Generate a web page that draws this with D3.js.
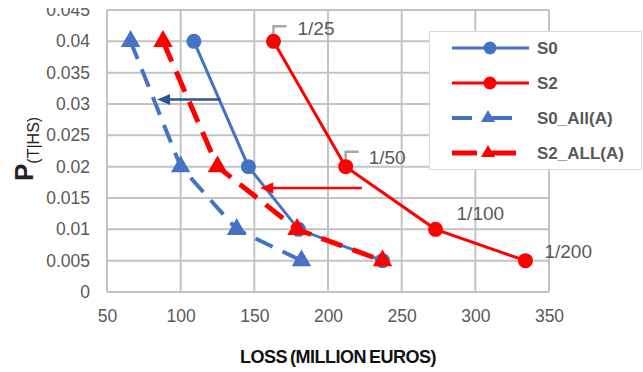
<!DOCTYPE html>
<html>
<head>
<meta charset="utf-8">
<script src="https://cdn.jsdelivr.net/npm/d3@7"></script>
<style>
  html, body { margin: 0; padding: 0; background: #fff; }
  svg { display: block; font-family: "Liberation Sans", Arial, sans-serif; }
</style>
</head>
<body>
<svg id="chart" width="643" height="372"></svg>
<script>
// Loss (million euros) for each return period, per scenario
const probabilities = [0.04, 0.02, 0.01, 0.005];
const returnPeriods = ["1/25", "1/50", "1/100", "1/200"];
const lossS0 = [109, 146, 180, 237];
const lossS2 = [163, 212, 273, 334];
const lossS0All = [66, 100, 138, 182];
const lossS2All = [88, 125, 179, 237];

const xTicks = [50, 100, 150, 200, 250, 300, 350];
const yTicks = [0, 0.005, 0.01, 0.015, 0.02, 0.025, 0.03, 0.035, 0.04, 0.045];

// Shift arrows: [fromLoss, toLoss, probability]
const arrowS0 = [127, 84, 0.0307];
const arrowS2 = [223, 154, 0.0166];

const series = [
  { name: "S0", loss: lossS0, color: "#4472c4", width: 3, dash: null, marker: "circle", legendDash: null },
  { name: "S2", loss: lossS2, color: "#ff0000", width: 3, dash: null, marker: "circle", legendDash: null },
  { name: "S0_All(A)", loss: lossS0All, color: "#4472c4", width: 4, dash: "19,11", marker: "triangle", legendDash: "20,20" },
  { name: "S2_ALL(A)", loss: lossS2All, color: "#ff0000", width: 5, dash: "22,11", marker: "triangle", legendDash: "25,14" }
];

const svg = d3.select("#chart");
const x = d3.scaleLinear().domain([50, 350]).range([107, 549]);
const y = d3.scaleLinear().domain([0, 0.045]).range([292, 10]);
const gridColor = "#c3c3c3";
const textColor = "#595959";

// Gridlines
const grid = svg.append("g");
grid.selectAll("line.h").data(yTicks).join("line")
  .attr("x1", x(50)).attr("x2", x(350))
  .attr("y1", d => y(d)).attr("y2", d => y(d))
  .attr("stroke", gridColor).attr("stroke-width", 2);
grid.selectAll("line.v").data(xTicks).join("line")
  .attr("y1", y(0)).attr("y2", y(0.045))
  .attr("x1", d => x(d)).attr("x2", d => x(d))
  .attr("stroke", gridColor).attr("stroke-width", 2);

// Axes (labels only, lines come from the grid)
const yAxis = d3.axisLeft(y).tickValues(yTicks).tickSize(0).tickPadding(17)
  .tickFormat(d => d === 0 ? "0" : String(+d.toFixed(3)));
const yG = svg.append("g").attr("transform", `translate(${x(50)},0)`).call(yAxis);
yG.select(".domain").remove();
yG.selectAll("text").attr("fill", textColor).attr("font-size", 17.5)
  .attr("font-family", "Liberation Sans, Arial, sans-serif");

const xAxis = d3.axisBottom(x).tickValues(xTicks).tickSize(0).tickPadding(18).tickFormat(d3.format("d"));
const xG = svg.append("g").attr("transform", `translate(0,${y(0)})`).call(xAxis);
xG.select(".domain").remove();
xG.selectAll("text").attr("fill", textColor).attr("font-size", 17.5)
  .attr("font-family", "Liberation Sans, Arial, sans-serif");

// Leader lines for the first two return-period labels
const leaders = svg.append("g");
[0, 1].forEach(i => {
  const px = x(lossS2[i]), py = y(probabilities[i]);
  leaders.append("path")
    .attr("d", `M${px},${py} V${py - 15} H${px + 13}`)
    .attr("fill", "none").attr("stroke", "#a6a6a6").attr("stroke-width", 2.5);
});

// Series lines and markers
const line = d3.line().x(d => x(d[0])).y(d => y(d[1]));
const tri = d3.symbol().type(d3.symbolTriangle);

series.forEach(s => {
  const pts = s.loss.map((v, i) => [v, probabilities[i]]);
  svg.append("path").datum(pts)
    .attr("d", line).attr("fill", "none")
    .attr("stroke", s.color).attr("stroke-width", s.width)
    .attr("stroke-dasharray", s.dash);
  const g = svg.append("g").attr("fill", s.color);
  if (s.marker === "circle") {
    g.selectAll("circle").data(pts).join("circle")
      .attr("cx", d => x(d[0])).attr("cy", d => y(d[1])).attr("r", 7.5);
  } else {
    g.selectAll("path").data(pts).join("path")
      .attr("transform", d => `translate(${x(d[0])},${y(d[1])})`)
      .attr("d", tri.size(165)());
  }
});

// Shift arrows
function arrow(a, color) {
  const x1 = x(a[0]), x2 = x(a[1]), yy = y(a[2]);
  svg.append("line").attr("x1", x1).attr("x2", x2 + 10).attr("y1", yy).attr("y2", yy)
    .attr("stroke", color).attr("stroke-width", 2.5);
  svg.append("path")
    .attr("d", `M${x2},${yy} L${x2 + 13},${yy - 5.5} L${x2 + 13},${yy + 5.5} Z`)
    .attr("fill", color);
}
arrow(arrowS0, "#2f5597");
arrow(arrowS2, "#ff0000");

// Return-period labels next to the S2 points
const labelOffsets = [[24, -6], [23, -3], [21, -9], [19, -3]];
svg.append("g").selectAll("text").data(returnPeriods).join("text")
  .attr("x", (d, i) => x(lossS2[i]) + labelOffsets[i][0])
  .attr("y", (d, i) => y(probabilities[i]) + labelOffsets[i][1])
  .attr("fill", textColor).attr("font-size", 19)
  .text(d => d);

// Legend
const lg = svg.append("g");
lg.append("rect").attr("x", 429.5).attr("y", 31.5).attr("width", 212).attr("height", 138)
  .attr("fill", "#fff").attr("stroke", "#d9d9d9").attr("stroke-width", 1);
series.forEach((s, i) => {
  const yy = 48 + i * 35;
  lg.append("line").attr("x1", 452).attr("x2", 529).attr("y1", yy).attr("y2", yy)
    .attr("stroke", s.color).attr("stroke-width", s.width)
    .attr("stroke-dasharray", s.legendDash);
  if (s.marker === "circle") {
    lg.append("circle").attr("cx", 490).attr("cy", yy).attr("r", 6.5).attr("fill", s.color);
  } else {
    lg.append("path").attr("transform", `translate(488,${yy})`)
      .attr("d", tri.size(85)()).attr("fill", s.color);
  }
  lg.append("text").attr("x", 537).attr("y", yy + 6)
    .attr("font-size", 17).attr("font-weight", "bold").attr("fill", textColor)
    .text(s.name);
});

// Axis titles
svg.append("text").attr("x", 338).attr("y", 363).attr("text-anchor", "middle")
  .attr("font-size", 18).attr("font-weight", "bold").attr("fill", "#111")
  .attr("letter-spacing", -0.5).attr("word-spacing", -1.5)
  .text("LOSS (MILLION EUROS)");

const yt = svg.append("text").attr("transform", "translate(33,181) rotate(-90)")
  .attr("fill", "#222");
yt.append("tspan").attr("font-size", 26).attr("font-weight", "bold").text("P");
yt.append("tspan").attr("font-size", 16).attr("dy", 6).text("(T|HS)");

// Top edge of the figure is trimmed
svg.append("rect").attr("x", 0).attr("y", 0).attr("width", 643).attr("height", 8).attr("fill", "#fff");
</script>
</body>
</html>
